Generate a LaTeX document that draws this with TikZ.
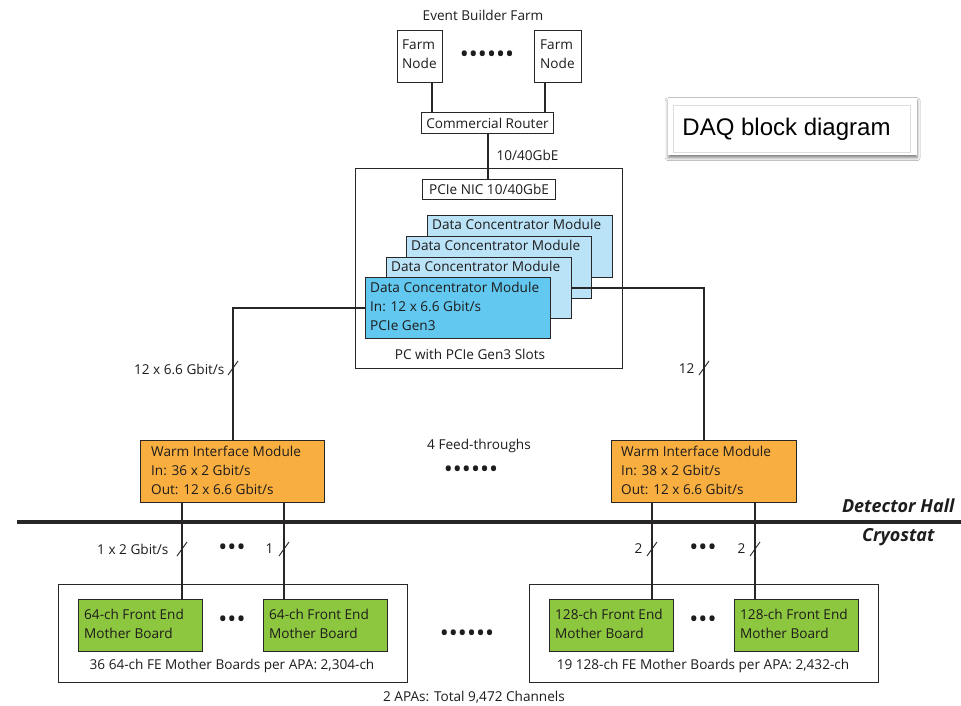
\documentclass[tikz,border=0pt]{standalone}
\usepackage{fontspec}
\setmainfont{Open Sans}
\newfontfamily\titlefont{Liberation Sans}
\usetikzlibrary{shadows.blur}
\definecolor{dcmfront}{RGB}{98,200,240}
\definecolor{dcmback}{RGB}{186,227,248}
\definecolor{wimorange}{RGB}{249,174,64}
\definecolor{fegreen}{RGB}{141,198,63}
\definecolor{edge}{RGB}{40,38,38}
\definecolor{ink}{RGB}{30,28,28}
\tikzset{
  every node/.style={font=\fontsize{13.6}{18.8}\selectfont, text=ink},
  plainbox/.style={draw=edge, line width=1pt, fill=white, inner sep=0pt},
  colbox/.style={draw=edge, line width=1.2pt, inner sep=0pt, anchor=north west},
  conn/.style={draw=edge, line width=2.2pt},
  thinconn/.style={draw=edge, line width=1.3pt},
  slashmark/.style={draw=edge, line width=0.9pt},
  boxtext/.style={anchor=north west, inner sep=0pt, align=left},
  dotsrow/.style={font=\fontsize{24}{24}\selectfont, inner sep=0pt},
  zonelabel/.style={anchor=east, font=\fontsize{18}{18}\bfseries\itshape\selectfont},
}
\newcommand{\slashat}[2]{\draw[slashmark] (#1-5,#2+7) -- (#1+5,#2-7);}
\begin{document}
\begin{tikzpicture}[x=1pt,y=-1pt]
\useasboundingbox[fill=white] (0,0) rectangle (961,705);

% ---------- event builder farm ----------
\node (ebf) at (483,15) {Event Builder Farm};
\node[plainbox, minimum width=45pt, minimum height=52pt, anchor=north west] (farmL) at (397,30) {};
\node[boxtext] (farmLt) at (402,40) {Farm\\Node};
\node[plainbox, minimum width=47pt, minimum height=52pt, anchor=north west] (farmR) at (534,30) {};
\node[boxtext] (farmRt) at (540,40) {Farm\\Node};
\node[dotsrow] (farmdots) at (487,57) {••••••};
\node[plainbox, minimum width=132pt, minimum height=21pt, anchor=north west] (router) at (421,112) {};
\node (routert) at (router.center) {Commercial Router};
\draw[thinconn] (farmL.south -| 432,0) -- (router.north -| 432,0);
\draw[thinconn] (farmR.south -| 545,0) -- (router.north -| 545,0);

% ---------- PC with data concentrator modules ----------
\node[plainbox, minimum width=267pt, minimum height=200pt, anchor=north west] (pc) at (355,168) {};
\node (pct) at (470,354) {PC with PCIe Gen3 Slots};
\node[plainbox, minimum width=133pt, minimum height=20pt, anchor=north west] (nic) at (422,179) {};
\node (nict) at (nic.center) {PCIe NIC 10/40GbE};
\draw[conn] (router.south -| 488,0) -- (nic.north -| 488,0);
\node[anchor=west] (gbe) at (493,155) {10/40GbE};

\node[colbox, fill=dcmback, minimum width=185pt, minimum height=62pt] (dcm4) at (427,215) {};
\node[boxtext] (dcm4t) at (432,219) {Data Concentrator Module};
\node[colbox, fill=dcmback, minimum width=185pt, minimum height=62pt] (dcm3) at (406,236) {};
\node[boxtext] (dcm3t) at (411,240) {Data Concentrator Module};
\node[colbox, fill=dcmback, minimum width=185pt, minimum height=61pt] (dcm2) at (386,257) {};
\node[boxtext] (dcm2t) at (391,261) {Data Concentrator Module};
\draw[conn] (dcm2.east) -- (dcm2.east -| 591,0);
\node[colbox, fill=dcmfront, minimum width=185pt, minimum height=61pt] (dcm1) at (365,277) {};
\node[boxtext] (dcm1t) at (370,282) {Data Concentrator Module\\In: 12 x 6.6 Gbit/s\\PCIe Gen3};

% ---------- warm interface modules ----------
\node[colbox, fill=wimorange, minimum width=184pt, minimum height=62pt] (wimL) at (140,440) {};
\node[boxtext] (wimLt) at (151,446) {Warm Interface Module\\In: 36 x 2 Gbit/s\\Out: 12 x 6.6 Gbit/s};
\node[colbox, fill=wimorange, minimum width=185pt, minimum height=62pt] (wimR) at (611,440) {};
\node[boxtext] (wimRt) at (621,446) {Warm Interface Module\\In: 38 x 2 Gbit/s\\Out: 12 x 6.6 Gbit/s};

\draw[conn] (dcm1.west) -| (wimL.north -| 233,0);
\draw[conn] (dcm2.east) -| (wimR.north -| 704,0);
\slashat{233}{368}
\slashat{704}{368}
\node[anchor=east] (rateL) at (228,369) {12 x 6.6 Gbit/s};
\node[anchor=east] (rateR) at (698,369) {12};

\node (feed) at (479,446) {4 Feed-throughs};
\node[dotsrow] (feeddots) at (471,472) {••••••};

% ---------- hall / cryostat boundary ----------
\coordinate (wallL) at (17,522);
\coordinate (wallR) at (961,522);
\draw[edge, line width=4pt] (wallL) -- (wallR);
\node[zonelabel] (hall) at (958,506) {Detector Hall};
\node[zonelabel] (cryo) at (938,537) {Cryostat};

% ---------- front end mother boards ----------
\node[plainbox, minimum width=349pt, minimum height=98pt, anchor=north west] (apaL) at (58,584) {};
\node[plainbox, minimum width=349pt, minimum height=98pt, anchor=north west] (apaR) at (529,584) {};
\node (apaLt) at (232,666) {36 64-ch FE Mother Boards per APA: 2,304-ch};
\node (apaRt) at (703,666) {19 128-ch FE Mother Boards per APA: 2,432-ch};

\node[colbox, fill=fegreen, minimum width=124pt, minimum height=52pt] (fe1) at (78,599) {};
\node[boxtext] (fe1t) at (84,609) {64-ch Front End\\Mother Board};
\node[colbox, fill=fegreen, minimum width=124pt, minimum height=52pt] (fe2) at (263,599) {};
\node[boxtext] (fe2t) at (269,609) {64-ch Front End\\Mother Board};
\node[colbox, fill=fegreen, minimum width=124pt, minimum height=52pt] (fe3) at (549,599) {};
\node[boxtext] (fe3t) at (555,609) {128-ch Front End\\Mother Board};
\node[colbox, fill=fegreen, minimum width=124pt, minimum height=52pt] (fe4) at (734,599) {};
\node[boxtext] (fe4t) at (740,609) {128-ch Front End\\Mother Board};

\draw[conn] (wimL.south -| 182,0) -- (fe1.north -| 182,0);
\draw[conn] (wimL.south -| 284,0) -- (fe2.north -| 284,0);
\draw[conn] (wimR.south -| 652,0) -- (fe3.north -| 652,0);
\draw[conn] (wimR.south -| 755,0) -- (fe4.north -| 755,0);
\slashat{182}{549}
\slashat{284}{549}
\slashat{652}{549}
\slashat{755}{549}
\node[anchor=east] (lnk1) at (172,549) {1 x 2 Gbit/s};
\node[anchor=east] (lnk2) at (277,549) {1};
\node[anchor=east] (lnk3) at (646,549) {2};
\node[anchor=east] (lnk4) at (749,549) {2};

\node[dotsrow] (dotsA) at (232,550) {•••};
\node[dotsrow] (dotsB) at (703,550) {•••};
\node[dotsrow] (dotsC) at (232,622) {•••};
\node[dotsrow] (dotsD) at (703,622) {•••};
\node[dotsrow] (dotsE) at (467,636) {••••••};

\node (total) at (474,697) {2 APAs: Total 9,472 Channels};

% ---------- caption box: shadowed card with a faint inner frame ----------
\node[fill=white, minimum width=249pt, minimum height=57pt, inner sep=0pt, anchor=north west,
      blur shadow={shadow xshift=0pt, shadow yshift=-2.5pt, shadow blur radius=3pt, shadow opacity=50}] (cap) at (668,98) {};
\node[draw=black!13, line width=1pt, minimum width=237pt, minimum height=47pt, inner sep=0pt, anchor=north west] (capframe) at (673,105) {};
\node[font=\titlefont\fontsize{24}{24}\selectfont, text=black] (capt) at (786.5,129) {DAQ block diagram};
\end{tikzpicture}
\end{document}
